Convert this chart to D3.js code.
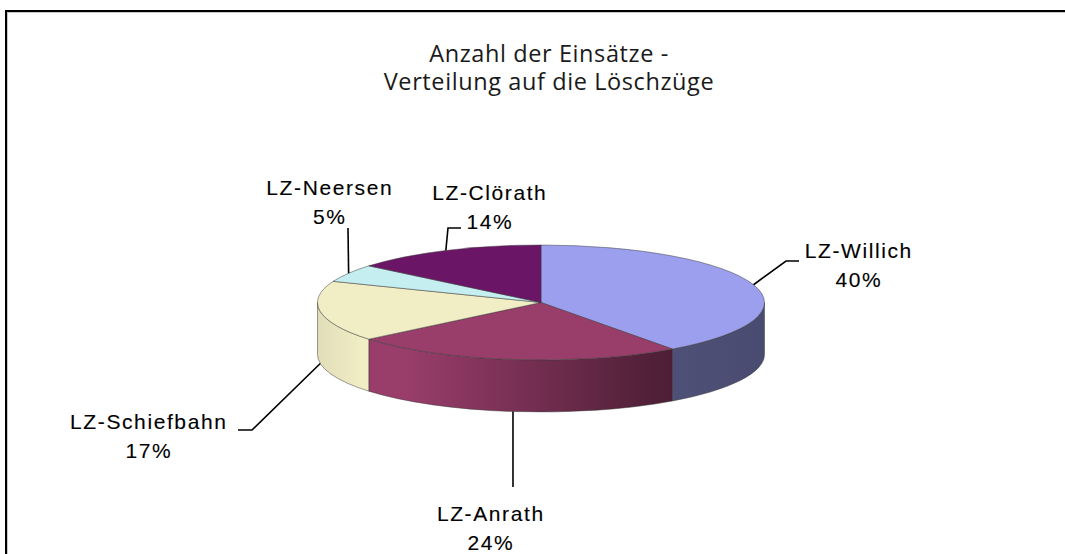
<!DOCTYPE html>
<html>
<head>
<meta charset="utf-8">
<script src="https://cdn.jsdelivr.net/npm/d3@7"></script>
<style>
  html, body { margin: 0; background: #fff; overflow: hidden; }
  svg { display: block; }
</style>
</head>
<body>
<div id="chart"></div>
<script>
var width = 1065;
var height = 554;

// data
const zuege = ["LZ-Willich", "LZ-Anrath", "LZ-Schiefbahn", "LZ-Neersen", "LZ-Clörath"];
const anteile = [40, 24, 17, 5, 14];
const farben = ["#9b9fee", "#993d6b", "#f1eec6", "#c4eef0", "#6b1566"];
const titelZeilen = ["Anzahl der Einsätze -", "Verteilung auf die Löschzüge"];

// pie geometry
const cx = 541, cy = 302.5, rx = 223.5, ry = 57.5, depth = 52;

// label placement: elbow, end of leader, text centre
const labelPos = {
  "LZ-Willich":    { elbow: [786, 261], end: [799, 261], text: [858, 250] },
  "LZ-Anrath":     { elbow: null,       end: [513, 487], text: [490, 513] },
  "LZ-Schiefbahn": { elbow: [252, 430], end: [238, 430], text: [148, 421] },
  "LZ-Neersen":    { elbow: null,       end: [348, 228], text: [329, 187] },
  "LZ-Clörath":    { elbow: [448, 228], end: [461, 228], text: [489, 192] }
};

const data = zuege.map((name, i) => ({ name: name, value: anteile[i], color: farben[i] }));

let svg = d3.select("#chart")
  .append("svg")
  .attr("width", width)
  .attr("height", height);

// chart frame (runs off the right and bottom edge)
svg.append("rect")
  .attr("x", 7.5).attr("y", 12.5)
  .attr("width", width + 60).attr("height", height + 60)
  .attr("fill", "none").attr("stroke", "#c8c8c8").attr("stroke-width", 1);
svg.append("rect")
  .attr("x", 6).attr("y", 11)
  .attr("width", width + 60).attr("height", height + 60)
  .attr("fill", "none").attr("stroke", "#000").attr("stroke-width", 2);

// title
svg.append("g").selectAll("text")
  .data(titelZeilen)
  .enter().append("text")
  .attr("x", 549)
  .attr("y", (d, i) => 62 + i * 28)
  .attr("text-anchor", "middle")
  .attr("font-family", "'Open Sans', Lato, sans-serif")
  .attr("font-size", "23.5px")
  .attr("letter-spacing", "0.6px")
  .attr("fill", "#1a1a1a")
  .text(d => d);

const pie = d3.pie().sort(null).value(d => d.value);
const arcs = pie(data);

function pt(a, dy) {
  return [cx + rx * Math.sin(a), cy - ry * Math.cos(a) + (dy || 0)];
}

// side shading: lit on the left, darker to the right
const defs = svg.append("defs");
const shade = [[0, 0.93], [0.1, 1], [0.2, 1], [0.75, 0.52], [0.8, 0.5], [1, 0.47]];
arcs.forEach((d, i) => {
  const base = d3.rgb(d.data.color);
  const g = defs.append("linearGradient")
    .attr("id", "side" + i)
    .attr("gradientUnits", "userSpaceOnUse")
    .attr("x1", cx - rx).attr("x2", cx + rx)
    .attr("y1", 0).attr("y2", 0);
  shade.forEach(s => {
    g.append("stop")
      .attr("offset", s[0])
      .attr("stop-color", d3.rgb(base.r * s[1], base.g * s[1], base.b * s[1]).formatHex());
  });
});

function sidePath(d) {
  const s = Math.max(d.startAngle, Math.PI / 2);
  const e = Math.min(d.endAngle, Math.PI * 3 / 2);
  if (s >= e) return null;
  const p0 = pt(s), p1 = pt(e), p2 = pt(e, depth), p3 = pt(s, depth);
  return "M" + p0 + "A" + rx + "," + ry + " 0 0 1 " + p1 +
    "L" + p2 + "A" + rx + "," + ry + " 0 0 0 " + p3 + "Z";
}

function topPath(d) {
  const p0 = pt(d.startAngle), p1 = pt(d.endAngle);
  const large = d.endAngle - d.startAngle > Math.PI ? 1 : 0;
  return "M" + cx + "," + cy + "L" + p0 +
    "A" + rx + "," + ry + " 0 " + large + " 1 " + p1 + "Z";
}

const pieG = svg.append("g");

pieG.selectAll("path.side")
  .data(arcs.filter(d => sidePath(d)))
  .enter().append("path")
  .attr("class", "side")
  .attr("d", sidePath)
  .attr("fill", d => "url(#side" + d.index + ")")
  .attr("stroke", "#3a3a3a")
  .attr("stroke-opacity", 0.7)
  .attr("stroke-width", 0.7);

pieG.selectAll("path.top")
  .data(arcs)
  .enter().append("path")
  .attr("class", "top")
  .attr("d", topPath)
  .attr("fill", d => d.data.color)
  .attr("stroke", "#3a3a3a")
  .attr("stroke-opacity", 0.7)
  .attr("stroke-width", 0.7);

// leader lines and labels
const labels = svg.append("g");
arcs.forEach(d => {
  const lp = labelPos[d.data.name];
  const mid = (d.startAngle + d.endAngle) / 2;
  const front = mid > Math.PI / 2 && mid < Math.PI * 3 / 2;
  const start = pt(mid, front ? depth : 0);
  const pts = [start];
  if (lp.elbow) pts.push(lp.elbow);
  pts.push(lp.end);
  labels.append("path")
    .attr("d", d3.line()(pts))
    .attr("fill", "none")
    .attr("stroke", "#000")
    .attr("stroke-width", 1.6);

  const t = labels.append("text")
    .attr("text-anchor", "middle")
    .attr("font-family", "'Liberation Sans', Arial, sans-serif")
    .attr("font-size", "21px")
    .attr("letter-spacing", "1.6px")
    .attr("stroke", "#000")
    .attr("stroke-width", 0.12)
    .attr("fill", "#000");
  t.append("tspan")
    .attr("x", lp.text[0] + 0.8).attr("y", lp.text[1] + 7.5)
    .text(d.data.name);
  t.append("tspan")
    .attr("x", lp.text[0] + 0.8).attr("y", lp.text[1] + 37)
    .text(Math.round(d.data.value / d3.sum(anteile) * 100) + "%");
});
</script>
</body>
</html>
